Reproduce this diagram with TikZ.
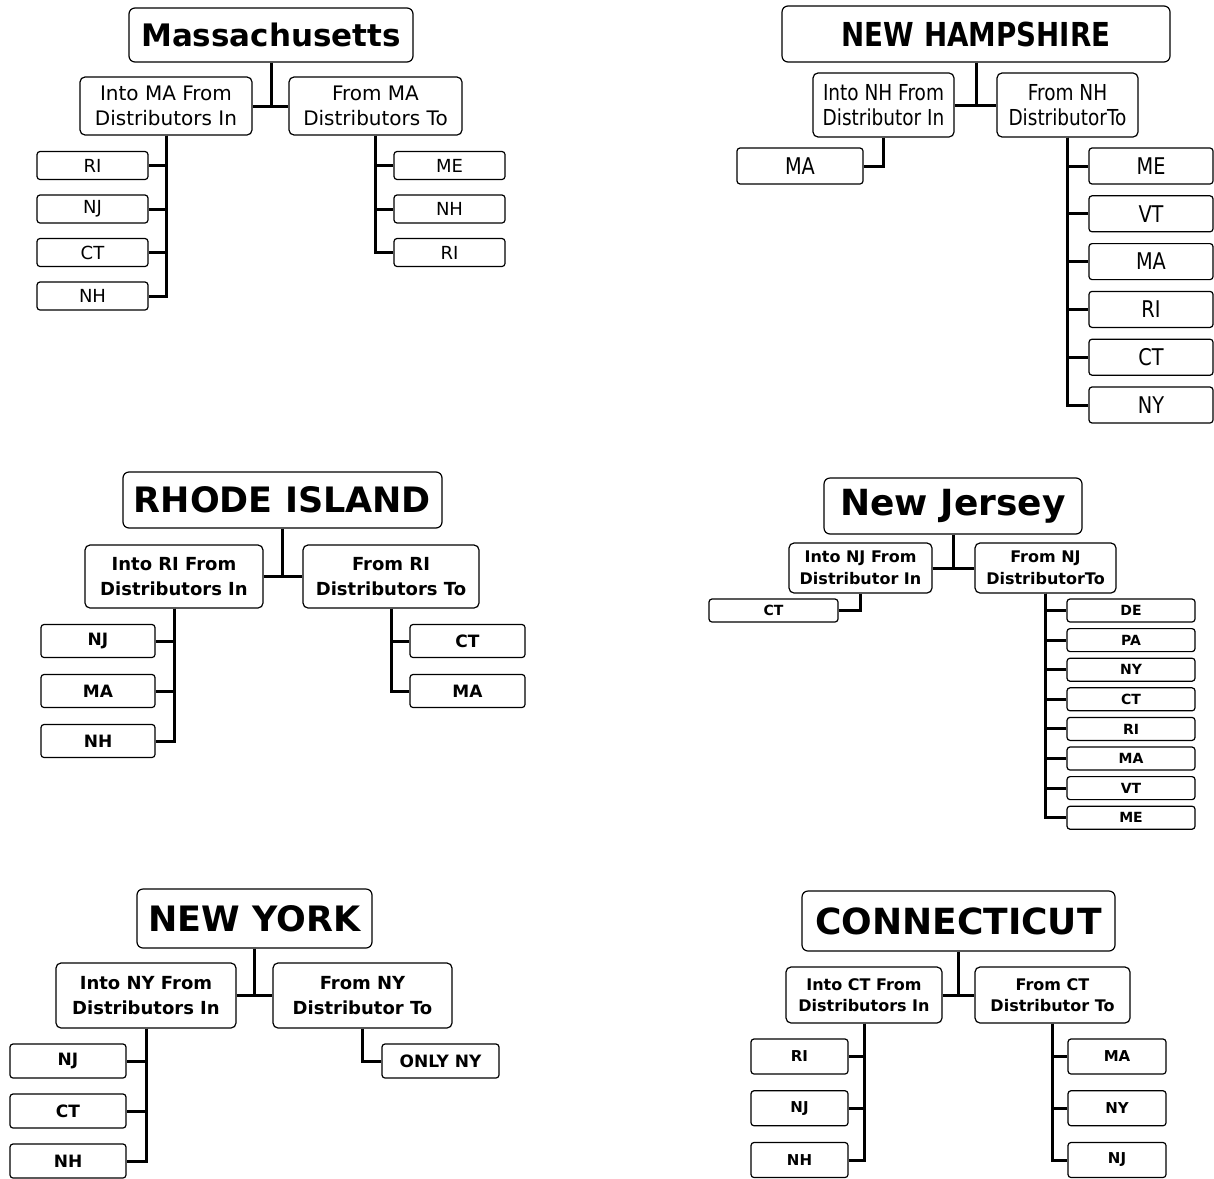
\documentclass[tikz,border=0pt]{standalone}
\usepackage{fontspec}
\setmainfont{DejaVu Sans}
\newfontfamily\narrowfont[FakeStretch=0.84]{DejaVu Sans}
\newcommand\fs[2]{\fontsize{#1}{#2}\selectfont}

\begin{document}
\begin{tikzpicture}[x=1pt, y=-1pt,
  box/.style={draw, line width=1.2pt, inner sep=0pt, align=center},
  ttl/.style={box, rounded corners=6pt},
  sub/.style={box, rounded corners=5pt},
  leaf/.style={box, rounded corners=3pt},
  link/.style={line width=3pt}]
\useasboundingbox (0,0) rectangle (1214,1178);

% Massachusetts
\begin{scope}[sub/.append style={font=\fs{20}{25}, minimum height=58},
  leaf/.append style={font=\fs{18}{18}, minimum width=111, minimum height=28}]
\node[ttl, font=\fs{31}{31}\bfseries, minimum width=284, minimum height=54] (ma) at (271,35) {Massachusetts};
\node[sub, minimum width=172] (maIn) at (166,106) {Into MA From\\Distributors In};
\node[sub, minimum width=173] (maOut) at (375.5,106) {From MA\\Distributors To};
\foreach \s [count=\i] in {RI,NJ,CT,NH}
  \node[leaf] (maIn\i) at (92.5,{165.5+43.5*(\i-1)}) {\s};
\foreach \s [count=\i] in {ME,NH,RI}
  \node[leaf] (maOut\i) at (449.5,{165.5+43.5*(\i-1)}) {\s};
\draw[link] (ma) -- (ma |- maIn.east) (maIn) -- (maOut);
\foreach \i in {1,...,4} \draw[link] (maIn) |- (maIn\i);
\foreach \i in {1,...,3} \draw[link] (maOut) |- (maOut\i);
\end{scope}

% New Hampshire
\begin{scope}[sub/.append style={font=\narrowfont\fs{22}{25}, minimum width=141, minimum height=64},
  leaf/.append style={font=\narrowfont\fs{23}{23}, minimum width=124, minimum height=36}]
\node[ttl, font=\narrowfont\fs{33}{33}\bfseries, minimum width=388, minimum height=56] (nh) at (976,34) {NEW HAMPSHIRE};
\node[sub] (nhIn) at (883.5,105) {Into NH From\\Distributor In};
\node[sub] (nhOut) at (1067.5,105) {From NH\\DistributorTo};
\node[leaf, minimum width=126] (nhIn1) at (800,166) {MA};
\foreach \s [count=\i] in {ME,VT,MA,RI,CT,NY}
  \node[leaf] (nhOut\i) at (1151,{166+47.8*(\i-1)}) {\s};
\draw[link] (nh) -- (nh |- nhIn.east) (nhIn) -- (nhOut);
\draw[link] (nhIn) |- (nhIn1);
\foreach \i in {1,...,6} \draw[link] (nhOut) |- (nhOut\i);
\end{scope}

% Rhode Island
\begin{scope}[sub/.append style={font=\fs{18}{25}\bfseries, minimum height=63},
  leaf/.append style={font=\fs{17}{17}\bfseries, minimum height=33}]
\node[ttl, font=\fs{35}{35}\bfseries, minimum width=319, minimum height=56] (ri) at (282.5,500) {RHODE ISLAND};
\node[sub, minimum width=178] (riIn) at (174,576.5) {Into RI From\\Distributors In};
\node[sub, minimum width=176] (riOut) at (391,576.5) {From RI\\Distributors To};
\foreach \s [count=\i] in {NJ,MA,NH}
  \node[leaf, minimum width=114] (riIn\i) at (98,{641+50*(\i-1)}) {\s};
\foreach \s [count=\i] in {CT,MA}
  \node[leaf, minimum width=115] (riOut\i) at (467.5,{641+50*(\i-1)}) {\s};
\draw[link] (ri) -- (ri |- riIn.east) (riIn) -- (riOut);
\foreach \i in {1,...,3} \draw[link] (riIn) |- (riIn\i);
\foreach \i in {1,2} \draw[link] (riOut) |- (riOut\i);
\end{scope}

% New Jersey
\begin{scope}[sub/.append style={font=\fs{16}{22}\bfseries, minimum height=50},
  leaf/.append style={font=\fs{14}{14}\bfseries, minimum height=23}]
\node[ttl, font=\fs{36}{36}\bfseries, minimum width=258, minimum height=56] (nj) at (953,506) {New Jersey};
\node[sub, minimum width=143] (njIn) at (860.5,568) {Into NJ From\\Distributor In};
\node[sub, minimum width=141] (njOut) at (1045.5,568) {From NJ\\DistributorTo};
\node[leaf, minimum width=129] (njIn1) at (773.5,610.5) {CT};
\foreach \s [count=\i] in {DE,PA,NY,CT,RI,MA,VT,ME}
  \node[leaf, minimum width=128] (njOut\i) at (1131,{610.5+29.6*(\i-1)}) {\s};
\draw[link] (nj) -- (nj |- njIn.east) (njIn) -- (njOut);
\draw[link] (njIn) |- (njIn1);
\foreach \i in {1,...,8} \draw[link] (njOut) |- (njOut\i);
\end{scope}

% New York
\begin{scope}[sub/.append style={font=\fs{18}{25}\bfseries, minimum height=65},
  leaf/.append style={font=\fs{17}{17}\bfseries, minimum height=34}]
\node[ttl, font=\fs{35}{35}\bfseries, minimum width=235, minimum height=59] (ny) at (254.5,918.5) {NEW YORK};
\node[sub, minimum width=180] (nyIn) at (146,995.5) {Into NY From\\Distributors In};
\node[sub, minimum width=179] (nyOut) at (362.5,995.5) {From NY\\Distributor To};
\foreach \s [count=\i] in {NJ,CT,NH}
  \node[leaf, minimum width=116] (nyIn\i) at (68,{1061+50*(\i-1)}) {\s};
\node[leaf, minimum width=117] (nyOut1) at (440.5,1061) {ONLY NY};
\draw[link] (ny) -- (ny |- nyIn.east) (nyIn) -- (nyOut);
\foreach \i in {1,...,3} \draw[link] (nyIn) |- (nyIn\i);
\draw[link] (nyOut) |- (nyOut1);
\end{scope}

% Connecticut
\begin{scope}[sub/.append style={font=\fs{16}{21}\bfseries, minimum height=56},
  leaf/.append style={font=\fs{15}{15}\bfseries, minimum height=35}]
\node[ttl, font=\fs{36}{36}\bfseries, minimum width=313, minimum height=60] (ct) at (958.5,921) {CONNECTICUT};
\node[sub, minimum width=156] (ctIn) at (864,995) {Into CT From\\Distributors In};
\node[sub, minimum width=155] (ctOut) at (1052.5,995) {From CT\\Distributor To};
\foreach \s [count=\i] in {RI,NJ,NH}
  \node[leaf, minimum width=97] (ctIn\i) at (799.5,{1056.5+51.75*(\i-1)}) {\s};
\foreach \s [count=\i] in {MA,NY,NJ}
  \node[leaf, minimum width=98] (ctOut\i) at (1117,{1056.5+51.75*(\i-1)}) {\s};
\draw[link] (ct) -- (ct |- ctIn.east) (ctIn) -- (ctOut);
\foreach \i in {1,...,3} \draw[link] (ctIn) |- (ctIn\i);
\foreach \i in {1,...,3} \draw[link] (ctOut) |- (ctOut\i);
\end{scope}
\end{tikzpicture}
\end{document}
